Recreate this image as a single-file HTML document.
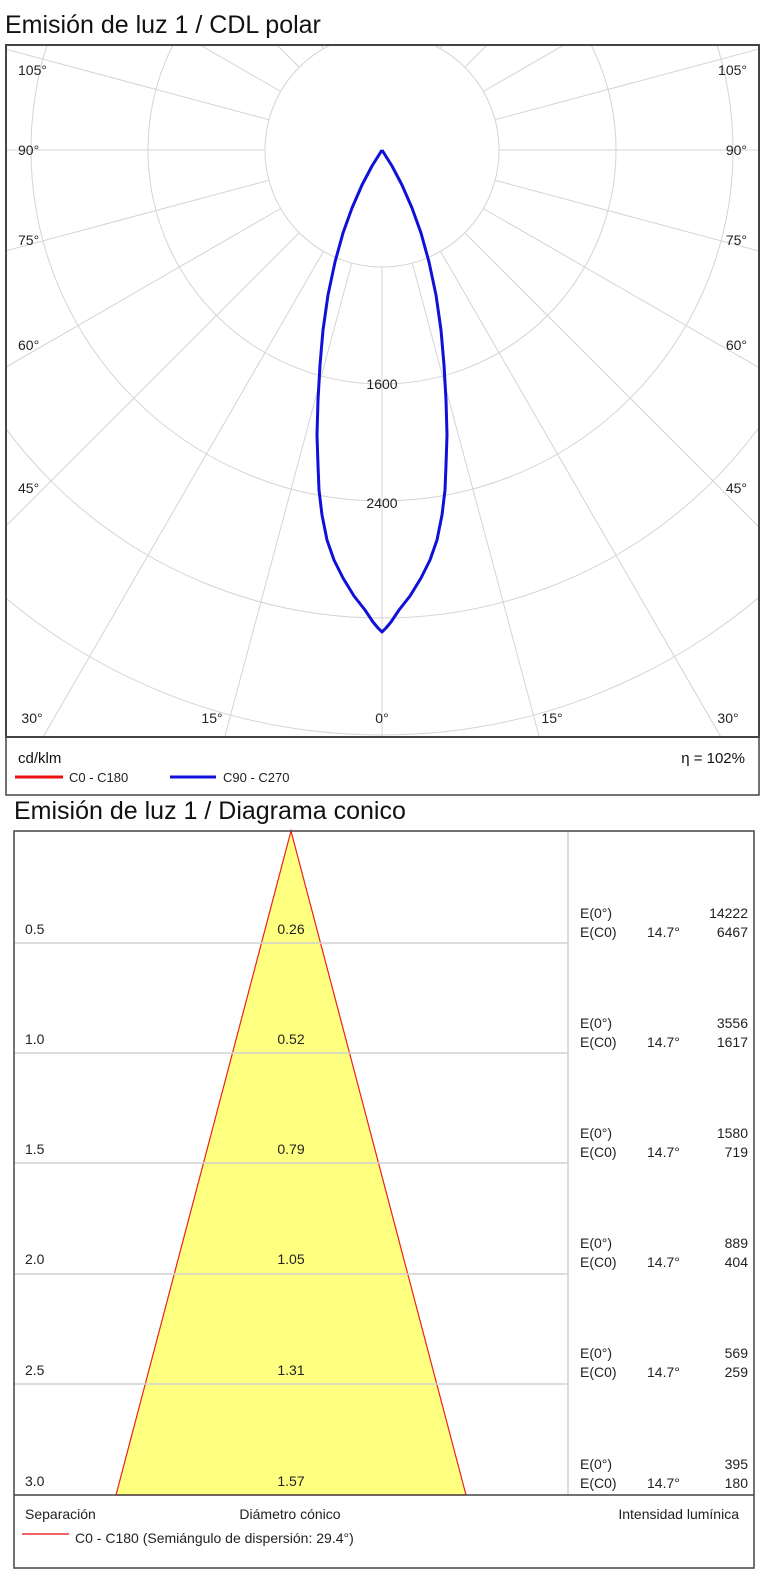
<!DOCTYPE html>
<html><head><meta charset="utf-8"><style>
html,body{margin:0;padding:0;background:#fff;}
svg{display:block;font-family:"Liberation Sans",sans-serif;}
</style></head><body>
<svg width="764" height="1586" viewBox="0 0 764 1586" xmlns="http://www.w3.org/2000/svg">
<defs><clipPath id="pc"><rect x="7" y="46" width="751" height="690"/></clipPath></defs>
<text x="5" y="33" font-size="25" fill="#111">Emisión de luz 1 / CDL polar</text>
<g clip-path="url(#pc)" stroke="#d4d4d4" stroke-width="1" fill="none">
<circle cx="382" cy="150" r="117"/><circle cx="382" cy="150" r="234"/><circle cx="382" cy="150" r="351"/>
<circle cx="382" cy="150" r="468"/><circle cx="382" cy="150" r="585"/><circle cx="382" cy="150" r="702"/><circle cx="382" cy="150" r="819"/>
<g>
<line x1="382" y1="267" x2="382" y2="1200"/>
<line x1="382" y1="267" x2="382" y2="1200" transform="rotate(15 382 150)"/>
<line x1="382" y1="267" x2="382" y2="1200" transform="rotate(30 382 150)"/>
<line x1="382" y1="267" x2="382" y2="1200" transform="rotate(45 382 150)"/>
<line x1="382" y1="267" x2="382" y2="1200" transform="rotate(60 382 150)"/>
<line x1="382" y1="267" x2="382" y2="1200" transform="rotate(75 382 150)"/>
<line x1="382" y1="267" x2="382" y2="1200" transform="rotate(90 382 150)"/>
<line x1="382" y1="267" x2="382" y2="1200" transform="rotate(105 382 150)"/>
<line x1="382" y1="267" x2="382" y2="1200" transform="rotate(120 382 150)"/>
<line x1="382" y1="267" x2="382" y2="1200" transform="rotate(135 382 150)"/>
<line x1="382" y1="267" x2="382" y2="1200" transform="rotate(150 382 150)"/>
<line x1="382" y1="267" x2="382" y2="1200" transform="rotate(165 382 150)"/>
<line x1="382" y1="267" x2="382" y2="1200" transform="rotate(-15 382 150)"/>
<line x1="382" y1="267" x2="382" y2="1200" transform="rotate(-30 382 150)"/>
<line x1="382" y1="267" x2="382" y2="1200" transform="rotate(-45 382 150)"/>
<line x1="382" y1="267" x2="382" y2="1200" transform="rotate(-60 382 150)"/>
<line x1="382" y1="267" x2="382" y2="1200" transform="rotate(-75 382 150)"/>
<line x1="382" y1="267" x2="382" y2="1200" transform="rotate(-90 382 150)"/>
<line x1="382" y1="267" x2="382" y2="1200" transform="rotate(-105 382 150)"/>
<line x1="382" y1="267" x2="382" y2="1200" transform="rotate(-120 382 150)"/>
<line x1="382" y1="267" x2="382" y2="1200" transform="rotate(-135 382 150)"/>
<line x1="382" y1="267" x2="382" y2="1200" transform="rotate(-150 382 150)"/>
<line x1="382" y1="267" x2="382" y2="1200" transform="rotate(-165 382 150)"/>
</g>
</g>
<g font-size="14" fill="#222">
<text x="18" y="75">105°</text><text x="18" y="155">90°</text><text x="18" y="245">75°</text><text x="18" y="350">60°</text><text x="18" y="493">45°</text>
<g text-anchor="end"><text x="747" y="75">105°</text><text x="747" y="155">90°</text><text x="747" y="245">75°</text><text x="747" y="350">60°</text><text x="747" y="493">45°</text></g>
<g text-anchor="middle"><text x="32" y="723">30°</text><text x="212" y="723">15°</text><text x="382" y="723">0°</text><text x="552" y="723">15°</text><text x="728" y="723">30°</text>
<text x="382" y="389">1600</text><text x="382" y="508">2400</text></g>
</g>
<polyline points="382,150 392,166 402,185 412,208 421,233 429,262 436,295 441,330 444,365 446,400 447,435 446,465 445,490 442,515 437,540 430,560 421,578 410,596 399,610 391,622 386,628 382,632 378,628 373,622 365,610 354,596 343,578 334,560 327,540 322,515 319,490 318,465 317,435 318,400 320,365 323,330 328,295 335,262 343,233 352,208 362,185 372,166 382,150" fill="none" stroke="#1010d8" stroke-width="3" stroke-linejoin="round"/>
<rect x="6" y="45" width="753" height="692" fill="none" stroke="#444" stroke-width="2"/>
<rect x="6" y="45" width="753" height="750" fill="none" stroke="#444" stroke-width="1.5"/>
<text x="18" y="763" font-size="15" fill="#111">cd/klm</text>
<text x="745" y="763" font-size="15" fill="#111" text-anchor="end">η = 102%</text>
<line x1="15" y1="777" x2="63" y2="777" stroke="#e81010" stroke-width="3"/>
<text x="69" y="782" font-size="13" fill="#222">C0 - C180</text>
<line x1="170" y1="777" x2="216" y2="777" stroke="#1010d8" stroke-width="3"/>
<text x="223" y="782" font-size="13" fill="#222">C90 - C270</text>

<text x="14" y="819" font-size="25" fill="#111">Emisión de luz 1 / Diagrama conico</text>
<polygon points="291,831 116,1495 466,1495" fill="#ffff80" stroke="#ee2020" stroke-width="1.2"/>
<g stroke="#d0d0d0" stroke-width="1.5">
<line x1="14" y1="943" x2="568" y2="943"/><line x1="14" y1="1053" x2="568" y2="1053"/><line x1="14" y1="1163" x2="568" y2="1163"/>
<line x1="14" y1="1274" x2="568" y2="1274"/><line x1="14" y1="1384" x2="568" y2="1384"/>
<line x1="568" y1="831" x2="568" y2="1495"/>
</g>
<line x1="14" y1="1495" x2="754" y2="1495" stroke="#444" stroke-width="1.5"/>
<rect x="14" y="831" width="740" height="737" fill="none" stroke="#444" stroke-width="1.5"/>
<g font-size="14" fill="#222">
<text x="25" y="934">0.5</text><text x="25" y="1044">1.0</text><text x="25" y="1154">1.5</text><text x="25" y="1264">2.0</text><text x="25" y="1375">2.5</text><text x="25" y="1486">3.0</text>
<g text-anchor="middle"><text x="291" y="934">0.26</text><text x="291" y="1044">0.52</text><text x="291" y="1154">0.79</text><text x="291" y="1264">1.05</text><text x="291" y="1375">1.31</text><text x="291" y="1486">1.57</text></g>
<text x="580" y="918">E(0°)</text><text x="580" y="937">E(C0)</text><text x="647" y="937">14.7°</text>
<text x="580" y="1028">E(0°)</text><text x="580" y="1047">E(C0)</text><text x="647" y="1047">14.7°</text>
<text x="580" y="1138">E(0°)</text><text x="580" y="1157">E(C0)</text><text x="647" y="1157">14.7°</text>
<text x="580" y="1248">E(0°)</text><text x="580" y="1267">E(C0)</text><text x="647" y="1267">14.7°</text>
<text x="580" y="1358">E(0°)</text><text x="580" y="1377">E(C0)</text><text x="647" y="1377">14.7°</text>
<text x="580" y="1469">E(0°)</text><text x="580" y="1488">E(C0)</text><text x="647" y="1488">14.7°</text>
<g text-anchor="end">
<text x="748" y="918">14222</text><text x="748" y="937">6467</text>
<text x="748" y="1028">3556</text><text x="748" y="1047">1617</text>
<text x="748" y="1138">1580</text><text x="748" y="1157">719</text>
<text x="748" y="1248">889</text><text x="748" y="1267">404</text>
<text x="748" y="1358">569</text><text x="748" y="1377">259</text>
<text x="748" y="1469">395</text><text x="748" y="1488">180</text>
</g>
<text x="25" y="1519">Separación</text>
<text x="290" y="1519" text-anchor="middle">Diámetro cónico</text>
<text x="739" y="1519" text-anchor="end">Intensidad lumínica</text>
<text x="75" y="1543">C0 - C180 (Semiángulo de dispersión: 29.4°)</text>
</g>
<line x1="22" y1="1534" x2="69" y2="1534" stroke="#ee3030" stroke-width="1.5"/>
</svg>
</body></html>
